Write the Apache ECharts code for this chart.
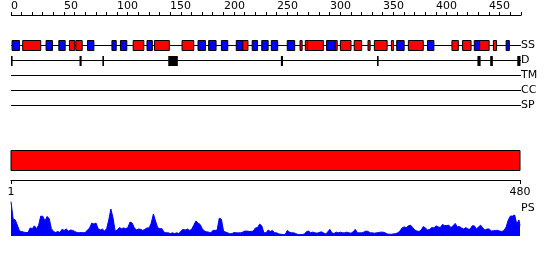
<!DOCTYPE html>
<html><head><meta charset="utf-8">
<script src="https://cdn.jsdelivr.net/npm/echarts@6/dist/echarts.min.js"></script>
<style>html,body{margin:0;padding:0;background:#fff}#c{width:550px;height:260px}</style>
</head><body><div id="c"></div>
<script>
const seqLength = 480;
const trackNames = ['', '', 'SS', 'D', 'TM', 'CC', 'SP'];
const helices = [[11,28],[55,60],[61,67],[115,125],[135,149],[161,172],[218,223],[272,274],[277,279],[279,294],[305,307],[310,320],[323,330],[336,338],[342,354],[358,360],[374,388],[415,421],[425,433],[441,450],[454,457]];
const strands = [[1,8],[33,39],[45,51],[72,78],[95,99],[103,109],[128,133],[176,183],[186,193],[198,204],[212,218],[227,232],[236,242],[245,251],[260,267],[297,305],[363,370],[392,398],[436,441],[466,469]];
const disorder = [[0,1.5],[64.5,66.5],[86,87],[148,157],[254,256],[344.5,346],[439,442],[451,453.5],[476.5,479.5]];
const domainRegions = [[1,480]];
const topTickLabels = [0,50,100,150,200,250,300,350,400,450];
const topTicks = [0,10,20,30,40,50,60,70,80,90,100,110,120,130,140,150,160,170,180,190,200,210,220,230,240,250,260,270,280,290,300,310,320,330,340,350,360,370,380,390,400,410,420,430,440,450,460,470,480];
const bottomTickLabels = [1,480];
const psValues = [
.98,.49,.46,.31,.14,.13,.11,.1,.1,.23,
.21,.29,.21,.31,.57,.56,.43,.56,.49,.21,
.13,.1,.13,.1,.19,.16,.2,.14,.17,.16,
.13,.1,.09,.1,.09,.11,.17,.23,.37,.34,
.37,.21,.17,.2,.14,.21,.46,.77,.52,.14,
.17,.24,.21,.23,.21,.24,.4,.37,.24,.17,
.2,.19,.16,.19,.23,.23,.37,.63,.43,.24,
.21,.21,.11,.09,.09,.07,.09,.07,.09,.07,
.14,.19,.17,.2,.16,.19,.31,.43,.37,.33,
.21,.14,.12,.11,.09,.16,.16,.17,.51,.48,
.14,.11,.09,.06,.07,.1,.09,.09,.09,.11,
.14,.14,.13,.13,.14,.23,.24,.34,.29,.09,
.09,.17,.13,.16,.09,.09,.06,.05,.04,.04,
.16,.11,.09,.09,.07,.04,.04,.04,.06,.12,
.14,.09,.11,.09,.08,.1,.12,.09,.06,.11,
.19,.09,.07,.11,.09,.11,.09,.09,.11,.09,
.08,.12,.19,.09,.09,.09,.11,.14,.13,.09,
.09,.08,.09,.1,.11,.11,.09,.06,.05,.05,
.06,.07,.09,.14,.23,.26,.24,.29,.31,.24,
.17,.14,.13,.17,.27,.23,.17,.19,.24,.23,
.29,.26,.24,.33,.3,.3,.31,.24,.29,.36,
.26,.27,.23,.2,.24,.2,.19,.29,.29,.2,
.26,.31,.23,.17,.2,.2,.14,.15,.16,.16,
.14,.13,.16,.26,.46,.57,.57,.6,.34,.46,
.3];

const FONT = 'DejaVu Sans';
const chart = echarts.init(document.getElementById('c'), null, {renderer: 'canvas'});

const SS = trackNames.indexOf('SS'), D = trackNames.indexOf('D');
const ssData = helices.map(h => [h[0], SS, h[1], 'H']).concat(strands.map(s => [s[0], SS, s[1], 'E']));
const dData = disorder.map(d => [d[0], D, d[1]]);
const lineData = trackNames.map((n, i) => [0, i, seqLength]).filter((r, i) => trackNames[i] !== '');
const rulerData = [[0, 0, seqLength]];
const tickData = topTicks.map(t => [t, 0, topTickLabels.indexOf(t) >= 0 ? 1 : 0]);
const psData = psValues.map((v, i) => [Math.min(1 + 2 * i, seqLength), v]);
const crisp = v => Math.round(v) + 0.5;
const hLine = (params, api) => {
  const a = api.coord([api.value(0), api.value(1)]);
  const b = api.coord([api.value(2), api.value(1)]);
  return {type: 'line', shape: {x1: a[0], y1: crisp(a[1]), x2: b[0], y2: crisp(b[1])}, style: {stroke: '#000', lineWidth: 1}};
};

chart.setOption({
  animation: false,
  textStyle: {fontFamily: FONT},
  grid: [
    {left: 11, width: 510, top: 15, height: 90},
    {left: 11, width: 509, top: 150, height: 20},
    {left: 11, width: 509, top: 180, height: 56}
  ],
  xAxis: [
    {gridIndex: 0, type: 'value', min: 0, max: seqLength, show: false},
    {gridIndex: 1, type: 'value', min: 1, max: seqLength, show: false},
    {gridIndex: 2, type: 'value', position: 'top', min: 1, max: seqLength,
     axisLine: {show: true, onZero: false, lineStyle: {color: '#000', width: 1}},
     axisTick: {show: true, inside: true, length: 4, customValues: bottomTickLabels, lineStyle: {color: '#000'}},
     axisLabel: {show: true, inside: true, margin: 7, customValues: bottomTickLabels, color: '#000', fontSize: 11, fontFamily: FONT},
     splitLine: {show: false}}
  ],
  yAxis: [
    {gridIndex: 0, type: 'category', data: trackNames, inverse: true, position: 'right', boundaryGap: false,
     axisLine: {show: false}, axisTick: {show: false}, splitLine: {show: false},
     axisLabel: {margin: 0, color: '#000', fontSize: 11, fontFamily: FONT}},
    {gridIndex: 1, type: 'category', data: [''], show: false},
    {gridIndex: 2, type: 'value', min: 0, max: 1.6, position: 'right',
     name: 'PS', nameLocation: 'middle', nameRotate: 0, nameGap: 1,
     nameTextStyle: {color: '#000', fontSize: 11, fontFamily: FONT, align: 'left', padding: [8, 0, 0, 0]},
     axisLine: {show: false}, axisTick: {show: false}, axisLabel: {show: false}, splitLine: {show: false}}
  ],
  series: [
    {type: 'custom', xAxisIndex: 0, yAxisIndex: 0, data: rulerData, silent: true, clip: false, renderItem: hLine},
    {type: 'custom', xAxisIndex: 0, yAxisIndex: 0, data: tickData, silent: true, clip: false,
     renderItem: (params, api) => {
       const p = api.coord([api.value(0), api.value(1)]);
       const x = crisp(p[0] - 0.5);
       const y = Math.round(p[1]);
       const children = [{type: 'line', shape: {x1: x, y1: y - 3, x2: x, y2: y + 0.5}, style: {stroke: '#000', lineWidth: 1}}];
       if (api.value(2) === 1) {
         children.push({type: 'text', x: Math.round(p[0]), y: y - 3,
           style: {text: String(api.value(0)), fill: '#000', font: '11px "DejaVu Sans"', align: 'left', verticalAlign: 'bottom'}});
       }
       return {type: 'group', children};
     }},
    {type: 'custom', xAxisIndex: 0, yAxisIndex: 0, data: lineData, silent: true, renderItem: hLine},
    {type: 'custom', xAxisIndex: 0, yAxisIndex: 0, data: ssData, silent: true,
     renderItem: (params, api) => {
       const a = api.coord([api.value(0), api.value(1)]);
       const b = api.coord([api.value(2), api.value(1)]);
       const isH = api.value(3) === 'H';
       return {type: 'rect', shape: {x: a[0], y: crisp(a[1]) - 5, width: Math.max(b[0] - a[0], 1), height: 10},
         style: {fill: isH ? '#ff0000' : '#0000ff', stroke: '#000', lineWidth: 1}};
     }},
    {type: 'custom', xAxisIndex: 0, yAxisIndex: 0, data: dData, silent: true,
     renderItem: (params, api) => {
       const a = api.coord([api.value(0), api.value(1)]);
       const b = api.coord([api.value(2), api.value(1)]);
       return {type: 'rect', shape: {x: a[0], y: crisp(a[1]) - 4.5, width: Math.max(b[0] - a[0], 1.6), height: 10},
         style: {fill: '#000'}};
     }},
    {type: 'custom', xAxisIndex: 1, yAxisIndex: 1, data: domainRegions, silent: true,
     renderItem: (params, api) => {
       const a = api.coord([api.value(0), 0]);
       const b = api.coord([api.value(1), 0]);
       const h = api.size([0, 1])[1];
       return {type: 'rect', shape: {x: a[0], y: a[1] - h / 2 + 0.5, width: b[0] - a[0], height: h},
         style: {fill: '#ff0000', stroke: '#000', lineWidth: 1}};
     }},
    {type: 'line', xAxisIndex: 2, yAxisIndex: 2, data: psData, showSymbol: false, silent: true,
     lineStyle: {color: '#0000ff', width: 1}, areaStyle: {color: '#0000ff', opacity: 1}}
  ]
});
</script></body></html>
